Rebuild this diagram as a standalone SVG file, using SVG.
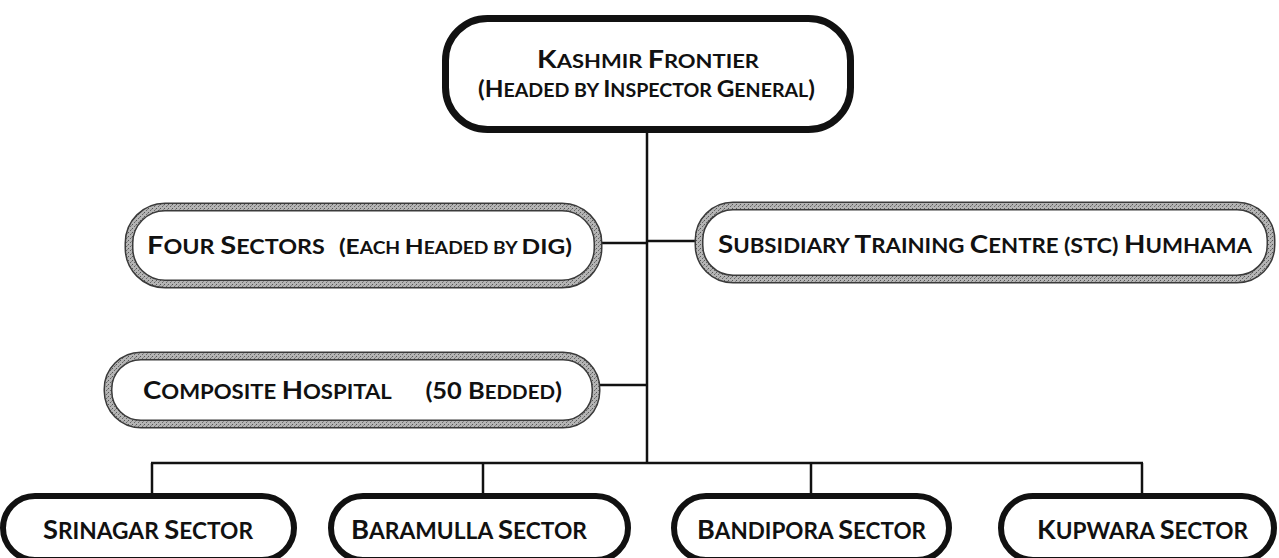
<svg xmlns="http://www.w3.org/2000/svg" width="1279" height="558" viewBox="0 0 1279 558">
<style>
  .t { font-family: Lato, "Open Sans", "Liberation Sans", sans-serif; font-weight: 700; fill: #111; }
  .blk { fill: #fff; stroke: #111; stroke-width: 7; }
  .bot { fill: #fff; stroke: #111; stroke-width: 6; }
  .gout { fill: #fff; stroke: #3a3a3a; stroke-width: 9; }
  .gin { fill: none; stroke: url(#speck); stroke-width: 6; }
  .ln { fill: none; stroke: #111; stroke-width: 2.5; }
</style>
<defs>
  <pattern id="speck" width="4" height="4" patternUnits="userSpaceOnUse">
    <rect width="4" height="4" fill="#b4b4b4"/>
    <rect x="0" y="0" width="1" height="1" fill="#555"/>
    <rect x="2" y="2" width="1" height="1" fill="#666"/>
    <rect x="3" y="1" width="1" height="1" fill="#888"/>
  </pattern>
</defs>
<rect width="1279" height="558" fill="#fff"/>

<g id="connectors">
  <line class="ln" x1="647" y1="133" x2="647" y2="464"/>
  <line class="ln" x1="600" y1="243" x2="647" y2="243"/>
  <line class="ln" x1="647" y1="241" x2="697" y2="241"/>
  <line class="ln" x1="598" y1="385" x2="647" y2="385"/>
  <line class="ln" x1="151" y1="463" x2="1143" y2="463"/>
  <line class="ln" x1="152" y1="463" x2="152" y2="494"/>
  <line class="ln" x1="483" y1="463" x2="483" y2="494"/>
  <line class="ln" x1="811" y1="463" x2="811" y2="494"/>
  <line class="ln" x1="1142" y1="463" x2="1142" y2="494"/>
</g>

<g id="kashmir-frontier">
  <rect class="blk" x="445.5" y="18.5" width="405" height="111" rx="42"/>
  <text class="t" x="537" y="68" textLength="222" lengthAdjust="spacingAndGlyphs" font-size="25.5">K<tspan font-size="19.5">ASHMIR </tspan>F<tspan font-size="19.5">RONTIER</tspan></text>
  <text class="t" x="478" y="97" textLength="337" lengthAdjust="spacingAndGlyphs" font-size="23">(H<tspan font-size="18.5">EADED BY </tspan>I<tspan font-size="18.5">NSPECTOR </tspan>G<tspan font-size="18.5">ENERAL</tspan>)</text>
</g>

<g id="four-sectors">
  <rect class="gout" x="129" y="207" width="469" height="77" rx="36"/>
  <rect class="gin" x="129" y="207" width="469" height="77" rx="36"/>
  <text class="t" x="147" y="254" textLength="425" lengthAdjust="spacingAndGlyphs" font-size="25" xml:space="preserve">F<tspan font-size="20">OUR </tspan>S<tspan font-size="20">ECTORS</tspan>  <tspan font-size="21">(E</tspan><tspan font-size="16.5">ACH </tspan><tspan font-size="21">H</tspan><tspan font-size="16.5">EADED BY </tspan><tspan font-size="21">DIG)</tspan></text>
</g>

<g id="stc">
  <rect class="gout" x="699" y="206" width="572" height="73" rx="34"/>
  <rect class="gin" x="699" y="206" width="572" height="73" rx="34"/>
  <text class="t" x="718" y="253" textLength="534" lengthAdjust="spacingAndGlyphs" font-size="25">S<tspan font-size="20">UBSIDIARY </tspan>T<tspan font-size="20">RAINING </tspan>C<tspan font-size="20">ENTRE </tspan><tspan font-size="21">(STC) </tspan>H<tspan font-size="20">UMHAMA</tspan></text>
</g>

<g id="composite-hospital">
  <rect class="gout" x="108" y="356" width="488" height="68" rx="33"/>
  <rect class="gin" x="108" y="356" width="488" height="68" rx="33"/>
  <text class="t" x="143" y="399" textLength="419" lengthAdjust="spacingAndGlyphs" font-size="25" xml:space="preserve">C<tspan font-size="20">OMPOSITE </tspan>H<tspan font-size="20">OSPITAL</tspan>     <tspan font-size="23">(50 B</tspan><tspan font-size="18.5">EDDED</tspan><tspan font-size="23">)</tspan></text>
</g>

<g id="srinagar-sector">
  <rect class="bot" x="3" y="496" width="291" height="64" rx="32"/>
  <text class="t" x="43" y="539" textLength="210" lengthAdjust="spacingAndGlyphs" font-size="26.5">S<tspan font-size="22">RINAGAR </tspan>S<tspan font-size="22">ECTOR</tspan></text>
</g>

<g id="baramulla-sector">
  <rect class="bot" x="331" y="496" width="297" height="64" rx="32"/>
  <text class="t" x="351" y="539" textLength="236" lengthAdjust="spacingAndGlyphs" font-size="26.5">B<tspan font-size="22">ARAMULLA </tspan>S<tspan font-size="22">ECTOR</tspan></text>
</g>

<g id="bandipora-sector">
  <rect class="bot" x="674" y="496" width="275" height="64" rx="32"/>
  <text class="t" x="697" y="539" textLength="229" lengthAdjust="spacingAndGlyphs" font-size="26.5">B<tspan font-size="22">ANDIPORA </tspan>S<tspan font-size="22">ECTOR</tspan></text>
</g>

<g id="kupwara-sector">
  <rect class="bot" x="1001" y="496" width="273" height="64" rx="32"/>
  <text class="t" x="1037" y="539" textLength="211" lengthAdjust="spacingAndGlyphs" font-size="26.5">K<tspan font-size="22">UPWARA </tspan>S<tspan font-size="22">ECTOR</tspan></text>
</g>
</svg>
